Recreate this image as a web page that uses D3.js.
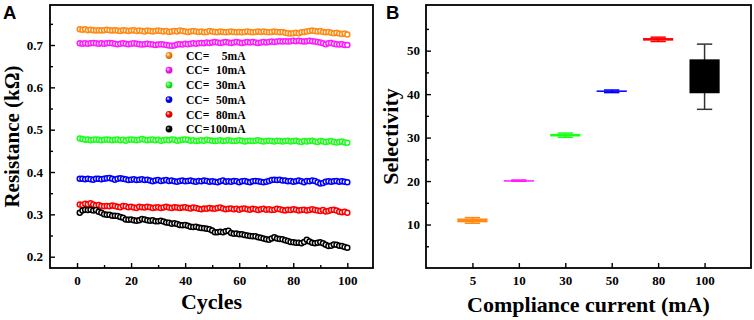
<!DOCTYPE html>
<html>
<head>
<meta charset="utf-8">
<script src="https://cdn.jsdelivr.net/npm/d3@7"></script>
<style>
  body { margin: 0; background: #fff; }
  text { font-family: "Liberation Serif", "Times New Roman", serif; font-weight: bold; fill: #000; }
  .panel-label { font-family: "Liberation Sans", Arial, sans-serif; font-size: 18.5px; }
</style>
</head>
<body>
<div id="chart"></div>
<script>
// ---- Panel A data: resistance (kOhm) per cycle, one array per compliance current ----
const cycles = d3.range(1, 101);
const seriesNames = ['CC=   5mA', 'CC=  10mA', 'CC=  30mA', 'CC=  50mA', 'CC=  80mA', 'CC=100mA'];
const seriesColors = ['#ff8a14', '#ff1aff', '#1aff1a', '#0000ff', '#ff0000', '#000000'];

const res5 = [
  0.737, 0.736, 0.737, 0.735, 0.736, 0.735, 0.734, 0.735, 0.734, 0.735,
  0.736, 0.735, 0.734, 0.735, 0.734, 0.733, 0.735, 0.734, 0.733, 0.734,
  0.735, 0.733, 0.734, 0.733, 0.732, 0.734, 0.733, 0.732, 0.733, 0.734,
  0.733, 0.732, 0.733, 0.731, 0.732, 0.733, 0.732, 0.734, 0.733, 0.732,
  0.731, 0.732, 0.733, 0.732, 0.731, 0.732, 0.730, 0.731, 0.733, 0.732,
  0.731, 0.730, 0.732, 0.731, 0.730, 0.731, 0.732, 0.731, 0.730, 0.731,
  0.730, 0.731, 0.732, 0.731, 0.730, 0.731, 0.732, 0.731, 0.732, 0.731,
  0.730, 0.731, 0.732, 0.731, 0.730, 0.731, 0.729, 0.728, 0.727, 0.728,
  0.729, 0.728, 0.730, 0.731, 0.732, 0.733, 0.734, 0.733, 0.732, 0.733,
  0.731, 0.730, 0.731, 0.729, 0.728, 0.729, 0.727, 0.726, 0.727, 0.725
];
const res10 = [
  0.704, 0.703, 0.704, 0.703, 0.704, 0.705, 0.704, 0.703, 0.704, 0.703,
  0.704, 0.705, 0.704, 0.703, 0.702, 0.703, 0.704, 0.703, 0.702, 0.703,
  0.704, 0.703, 0.702, 0.701, 0.702, 0.703, 0.702, 0.701, 0.700, 0.701,
  0.702, 0.701, 0.700, 0.699, 0.698, 0.699, 0.701, 0.702, 0.701, 0.703,
  0.702, 0.703, 0.704, 0.703, 0.704, 0.705, 0.704, 0.706, 0.705, 0.706,
  0.707, 0.706, 0.705, 0.706, 0.707, 0.706, 0.705, 0.706, 0.707, 0.706,
  0.705, 0.706, 0.707, 0.706, 0.707, 0.706, 0.705, 0.706, 0.707, 0.706,
  0.707, 0.708, 0.707, 0.708, 0.709, 0.708, 0.709, 0.708, 0.709, 0.710,
  0.709, 0.710, 0.709, 0.708, 0.709, 0.710, 0.709, 0.708, 0.707, 0.706,
  0.704, 0.702, 0.704, 0.705, 0.703, 0.702, 0.701, 0.702, 0.700, 0.700
];
const res30 = [
  0.479, 0.478, 0.476, 0.477, 0.475, 0.476, 0.477, 0.476, 0.475, 0.476,
  0.477, 0.476, 0.475, 0.476, 0.477, 0.475, 0.476, 0.474, 0.476, 0.477,
  0.476, 0.475, 0.476, 0.478, 0.476, 0.475, 0.476, 0.477, 0.475, 0.476,
  0.474, 0.475, 0.476, 0.475, 0.477, 0.476, 0.474, 0.475, 0.476, 0.477,
  0.476, 0.474, 0.475, 0.473, 0.474, 0.475, 0.474, 0.476, 0.475, 0.474,
  0.473, 0.474, 0.475, 0.473, 0.474, 0.475, 0.474, 0.473, 0.474, 0.475,
  0.474, 0.472, 0.473, 0.474, 0.473, 0.474, 0.475, 0.473, 0.472, 0.473,
  0.474, 0.473, 0.472, 0.474, 0.473, 0.472, 0.473, 0.474, 0.472, 0.473,
  0.474, 0.472, 0.471, 0.473, 0.472, 0.473, 0.474, 0.472, 0.471, 0.473,
  0.472, 0.471, 0.472, 0.473, 0.471, 0.470, 0.471, 0.472, 0.470, 0.469
];
const res50 = [
  0.384, 0.384, 0.383, 0.384, 0.383, 0.382, 0.384, 0.384, 0.383, 0.384,
  0.385, 0.386, 0.384, 0.382, 0.384, 0.385, 0.384, 0.383, 0.381, 0.382,
  0.383, 0.381, 0.382, 0.383, 0.381, 0.382, 0.380, 0.378, 0.380, 0.381,
  0.379, 0.380, 0.381, 0.379, 0.380, 0.378, 0.377, 0.379, 0.380, 0.378,
  0.379, 0.380, 0.378, 0.377, 0.379, 0.378, 0.380, 0.379, 0.377, 0.378,
  0.377, 0.376, 0.378, 0.380, 0.377, 0.378, 0.377, 0.379, 0.378, 0.376,
  0.378, 0.379, 0.377, 0.376, 0.378, 0.379, 0.378, 0.377, 0.376, 0.377,
  0.379, 0.381, 0.382, 0.381, 0.382, 0.380, 0.380, 0.378, 0.379, 0.377,
  0.378, 0.380, 0.378, 0.376, 0.379, 0.378, 0.380, 0.379, 0.376, 0.373,
  0.374, 0.377, 0.378, 0.377, 0.378, 0.379, 0.377, 0.378, 0.377, 0.376
];
const res80 = [
  0.323, 0.322, 0.325, 0.324, 0.326, 0.323, 0.321, 0.322, 0.320, 0.319,
  0.320, 0.319, 0.321, 0.320, 0.318, 0.317, 0.320, 0.319, 0.317, 0.318,
  0.316, 0.315, 0.318, 0.317, 0.316, 0.318, 0.317, 0.315, 0.316, 0.317,
  0.315, 0.316, 0.318, 0.316, 0.315, 0.317, 0.316, 0.315, 0.316, 0.317,
  0.315, 0.314, 0.316, 0.315, 0.313, 0.312, 0.314, 0.313, 0.315, 0.314,
  0.313, 0.315, 0.316, 0.314, 0.312, 0.313, 0.314, 0.312, 0.313, 0.311,
  0.313, 0.314, 0.312, 0.311, 0.313, 0.312, 0.310, 0.312, 0.313, 0.311,
  0.312, 0.310, 0.311, 0.313, 0.312, 0.310, 0.309, 0.311, 0.310, 0.312,
  0.311, 0.309, 0.310, 0.311, 0.309, 0.310, 0.312, 0.310, 0.309, 0.308,
  0.310, 0.307, 0.308, 0.310, 0.311, 0.309, 0.306, 0.305, 0.306, 0.304
];
const res100 = [
  0.304, 0.309, 0.311, 0.310, 0.311, 0.309, 0.310, 0.306, 0.304, 0.300,
  0.299, 0.299, 0.297, 0.297, 0.296, 0.294, 0.292, 0.288, 0.287, 0.288,
  0.286, 0.285, 0.286, 0.289, 0.288, 0.286, 0.285, 0.286, 0.284, 0.284,
  0.285, 0.283, 0.281, 0.280, 0.278, 0.279, 0.277, 0.275, 0.274, 0.275,
  0.273, 0.271, 0.270, 0.271, 0.269, 0.268, 0.267, 0.266, 0.265, 0.262,
  0.258, 0.258, 0.259, 0.258, 0.260, 0.261, 0.256, 0.254, 0.255, 0.253,
  0.253, 0.251, 0.250, 0.249, 0.248, 0.248, 0.246, 0.245, 0.243, 0.241,
  0.240, 0.243, 0.246, 0.243, 0.242, 0.241, 0.239, 0.237, 0.235, 0.234,
  0.233, 0.233, 0.232, 0.235, 0.240, 0.236, 0.233, 0.232, 0.233, 0.234,
  0.232, 0.228, 0.225, 0.226, 0.229, 0.228, 0.226, 0.225, 0.223, 0.221
];
const resistanceSeries = [res5, res10, res30, res50, res80, res100];

// ---- Panel B data: selectivity box statistics per compliance current ----
const ccLabels = ['5', '10', '30', '50', '80', '100'];
const boxColors = ['#ff8a14', '#ff1aff', '#1aff1a', '#0000ff', '#ff0000', '#000000'];
const selMin = [10.3, 19.95, 30.05, 40.35, 52.1, 36.5];
const selQ1  = [10.5, 20.0, 30.25, 40.5, 52.3, 40.2];
const selQ3  = [11.4, 20.2, 30.85, 40.85, 52.9, 48.0];
const selMax = [11.6, 20.25, 31.05, 40.95, 53.1, 51.5];

const yTicksA = [0.2, 0.3, 0.4, 0.5, 0.6, 0.7];
const yMinorA = [0.25, 0.35, 0.45, 0.55, 0.65, 0.75];
const xTicksA = [0, 20, 40, 60, 80, 100];
const xMinorA = [10, 30, 50, 70, 90];
const yTicksB = [10, 20, 30, 40, 50];
const yMinorB = [5, 15, 25, 35, 45, 55];

const width = 754, height = 320;
const svg = d3.select('#chart').append('svg')
  .attr('width', width)
  .attr('height', height);

svg.append('rect').attr('width', width).attr('height', height).attr('fill', '#fff');

// sphere-like gradients for legend markers
const defs = svg.append('defs');
seriesColors.forEach((c, i) => {
  const g = defs.append('radialGradient').attr('id', 'ball' + i)
    .attr('cx', '40%').attr('cy', '40%').attr('r', '60%').attr('fx', '35%').attr('fy', '35%');
  g.append('stop').attr('offset', '0%').attr('stop-color', i === 5 ? '#bbb' : '#fff');
  g.append('stop').attr('offset', '45%').attr('stop-color', c);
  g.append('stop').attr('offset', '100%').attr('stop-color', d3.color(c).darker(0.8));
});

// helper for inward ticks
const styleAxis = (g) => {
  g.select('.domain').remove();
  g.selectAll('line').attr('stroke', '#000').attr('stroke-width', 1.4);
  g.selectAll('text').style('font-size', '13px').attr('fill', '#000');
};

// ================= Panel A =================
const A = { left: 50, right: 373, top: 5, bottom: 268 };
const xA = d3.scaleLinear().domain([-10, 109.5]).range([A.left, A.right]);
const yA = d3.scaleLinear().domain([0.1733, 0.7945]).range([A.bottom, A.top]);

const gA = svg.append('g');

gA.append('g').attr('transform', `translate(0,${A.bottom})`)
  .call(d3.axisBottom(xA).tickValues(xTicksA).tickSize(-5).tickPadding(8).tickFormat(d3.format('d')))
  .call(styleAxis);
gA.append('g').attr('transform', `translate(0,${A.bottom})`)
  .call(d3.axisBottom(xA).tickValues(xMinorA).tickSize(-3).tickFormat(''))
  .call(styleAxis);
gA.append('g').attr('transform', `translate(${A.left},0)`)
  .call(d3.axisLeft(yA).tickValues(yTicksA).tickSize(-5).tickPadding(7).tickFormat(d3.format('.1f')))
  .call(styleAxis);
gA.append('g').attr('transform', `translate(${A.left},0)`)
  .call(d3.axisLeft(yA).tickValues(yMinorA).tickSize(-3).tickFormat(''))
  .call(styleAxis);

resistanceSeries.forEach((vals, i) => {
  gA.append('g').selectAll('circle')
    .data(vals)
    .enter()
    .append('circle')
    .attr('cx', (d, j) => xA(cycles[j]))
    .attr('cy', (d) => yA(d))
    .attr('r', 2.5)
    .attr('fill', '#fff')
    .attr('stroke', seriesColors[i])
    .attr('stroke-width', 1.5);
});

gA.append('rect')
  .attr('x', A.left).attr('y', A.top)
  .attr('width', A.right - A.left).attr('height', A.bottom - A.top)
  .attr('fill', 'none').attr('stroke', '#000').attr('stroke-width', 1.8);

// legend
const legend = gA.append('g');
seriesNames.forEach((name, i) => {
  const yy = 55.5 + i * 14.7;
  legend.append('circle').attr('cx', 169).attr('cy', yy).attr('r', 3.4)
    .attr('fill', `url(#ball${i})`);
  const label = name.split('=');
  legend.append('text').attr('x', 186).attr('y', yy + 4.2)
    .style('font-size', '11.6px').text(label[0] + '=');
  legend.append('text').attr('x', 245.5).attr('y', yy + 4.2)
    .attr('text-anchor', 'end')
    .style('font-size', '11.6px').text(label[1].trim());
});

gA.append('text')
  .attr('x', (A.left + A.right) / 2).attr('y', 309)
  .attr('text-anchor', 'middle').style('font-size', '22px')
  .text('Cycles');
gA.append('text')
  .attr('transform', `translate(19,${(A.top + A.bottom) / 2}) rotate(-90)`)
  .attr('text-anchor', 'middle').style('font-size', '21px')
  .text('Resistance (kΩ)');
gA.append('text').attr('class', 'panel-label').attr('x', 3).attr('y', 18.5).text('A');

// ================= Panel B =================
const B = { left: 426, right: 751, top: 5, bottom: 268 };
const xB = d3.scalePoint().domain(ccLabels).range([B.left, B.right]).padding(1);
const yB = d3.scaleLinear().domain([0, 60.5]).range([B.bottom, B.top]);
const step = xB.step();

const gB = svg.append('g');

gB.append('g').attr('transform', `translate(0,${B.bottom})`)
  .call(d3.axisBottom(xB).tickSize(-5).tickPadding(8))
  .call(styleAxis);
gB.append('g').attr('transform', `translate(${B.left},0)`)
  .call(d3.axisLeft(yB).tickValues(yTicksB).tickSize(-5).tickPadding(6).tickFormat(d3.format('d')))
  .call(styleAxis);
gB.append('g').attr('transform', `translate(${B.left},0)`)
  .call(d3.axisLeft(yB).tickValues(yMinorB).tickSize(-3).tickFormat(''))
  .call(styleAxis);

const boxW = step * 0.65;
const capW = step * 0.33;
ccLabels.forEach((c, i) => {
  const cx = xB(c);
  const col = boxColors[i];
  const whiskerCol = i === 5 ? '#333' : col;
  const g = gB.append('g');
  g.append('line').attr('x1', cx).attr('x2', cx)
    .attr('y1', yB(selMax[i])).attr('y2', yB(selMin[i]))
    .attr('stroke', whiskerCol).attr('stroke-width', 1.5);
  [selMin[i], selMax[i]].forEach((v) => {
    g.append('line').attr('x1', cx - capW / 2).attr('x2', cx + capW / 2)
      .attr('y1', yB(v)).attr('y2', yB(v))
      .attr('stroke', whiskerCol).attr('stroke-width', 1.5);
  });
  g.append('rect')
    .attr('x', cx - boxW / 2).attr('width', boxW)
    .attr('y', yB(selQ3[i]))
    .attr('height', Math.max(1.5, yB(selQ1[i]) - yB(selQ3[i])))
    .attr('fill', col);
});

gB.append('rect')
  .attr('x', B.left).attr('y', B.top)
  .attr('width', B.right - B.left).attr('height', B.bottom - B.top)
  .attr('fill', 'none').attr('stroke', '#000').attr('stroke-width', 1.8);

gB.append('text')
  .attr('x', (B.left + B.right) / 2).attr('y', 312)
  .attr('text-anchor', 'middle').style('font-size', '22px')
  .text('Compliance current (mA)');
gB.append('text')
  .attr('transform', `translate(398,${(B.top + B.bottom) / 2}) rotate(-90)`)
  .attr('text-anchor', 'middle').style('font-size', '22px')
  .text('Selectivity');
gB.append('text').attr('class', 'panel-label').attr('x', 386).attr('y', 18.5).text('B');
</script>
</body>
</html>
